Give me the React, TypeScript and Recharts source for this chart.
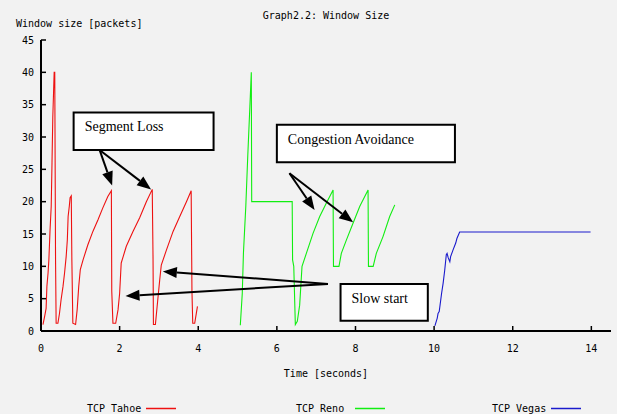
import React from 'react';
import { LineChart, Line, XAxis, YAxis, ReferenceArea, ReferenceLine } from 'recharts';

// ---- data (time in seconds, window size in packets) ----
const tahoeTime = [
  0.05, 0.10, 0.13, 0.15, 0.18, 0.20, 0.23, 0.26, 0.28, 0.30, 0.32, 0.335, 0.35, 0.37, 0.385,
  0.43, 0.47, 0.51, 0.56, 0.60, 0.64, 0.67, 0.69, 0.72, 0.74, 0.77, 0.785, 0.81,
  0.88, 0.92, 0.96, 1.00, 1.07, 1.19, 1.32, 1.45, 1.57, 1.70, 1.79, 1.80, 1.83,
  1.90, 1.96, 2.00, 2.04, 2.17, 2.34, 2.51, 2.68, 2.83, 2.85, 2.86,
  2.91, 2.97, 3.02, 3.06, 3.19, 3.36, 3.53, 3.70, 3.82, 3.84, 3.86,
  3.91, 3.95, 3.98,
];
const tahoeWindow = [
  1, 2.5, 3.5, 6.9, 9, 11, 15.6, 19.3, 26, 33, 37, 40, 40, 11, 1.2,
  1.2, 2.7, 4.8, 6.9, 9, 11.5, 14.1, 17.7, 19.3, 20.6, 20.9, 11, 1.2,
  1, 3.3, 6.9, 9.5, 11, 13.3, 15.4, 17.2, 19, 20.8, 21.7, 6.2, 1.2,
  1.2, 3.3, 5.8, 10.5, 13.1, 15.4, 17.5, 20, 21.9, 11.3, 1,
  1, 4.8, 7.9, 10.2, 12.5, 15.4, 17.7, 20, 21.7, 6.2, 1.2,
  1.2, 2.7, 3.8,
];

const renoTime = [
  5.07, 5.12, 5.15, 5.21, 5.26, 5.31, 5.35, 5.36,
  6.39, 6.40, 6.43, 6.47, 6.52, 6.58, 6.64,
  6.75, 6.92, 7.09, 7.26, 7.43,
  7.44, 7.51, 7.58, 7.64, 7.77, 7.94, 8.11, 8.32,
  8.33, 8.36, 8.45, 8.53, 8.70, 8.87, 9.00,
];
const renoWindow = [
  0.9, 5.8, 12.1, 19.3, 27.1, 34.2, 40, 20,
  20, 11, 10, 1, 1.5, 4, 10,
  12, 15.1, 17.7, 19.8, 21.8,
  10, 10, 10, 12, 14.1, 16.7, 19.3, 21.8,
  10, 10, 10, 12, 14.6, 17.7, 19.5,
];

const vegasTime = [10.02, 10.08, 10.10, 10.13, 10.19, 10.23, 10.27, 10.31, 10.33, 10.36, 10.40, 10.42, 10.48, 10.55, 10.58, 10.65, 13.98];
const vegasWindow = [0.8, 2, 2.7, 3, 5.8, 7.4, 9.4, 11.8, 12, 11.3, 10.7, 11.5, 12.5, 13.6, 14.3, 15.3, 15.3];

const xTicks = [0, 2, 4, 6, 8, 10, 12, 14];
const yTicks = [0, 5, 10, 15, 20, 25, 30, 35, 40, 45];

const seriesNames = ['TCP Tahoe', 'TCP Reno', 'TCP Vegas'];
const seriesColors = ['#ee1111', '#11ee11', '#1a1acc'];

const chartTitleText = 'Graph2.2: Window Size';
const xTitleText = 'Time [seconds]';
const yTitleText = 'Window size [packets]';

// annotation boxes
const boxLabels = ['Segment Loss', 'Congestion Avoidance', 'Slow start'];
const boxT1 = [0.83, 6.0, 7.62];
const boxT2 = [4.39, 10.53, 9.84];
const boxW1 = [28.0, 26.1, 1.6];
const boxW2 = [33.8, 31.9, 7.28];

// arrows: from (t, w) to (t, w)
const arrowFromT = [1.49, 1.49, 6.32, 6.32, 7.30, 7.30];
const arrowFromW = [28.0, 28.0, 24.4, 24.4, 7.28, 7.28];
const arrowToT = [1.81, 2.80, 6.96, 7.94, 3.10, 2.15];
const arrowToW = [22.5, 21.9, 18.7, 16.8, 9.2, 5.4];

const zip = (ts: number[], ws: number[]) => ts.map((t, i) => ({ t, w: ws[i] }));
const tahoeData = zip(tahoeTime, tahoeWindow);
const renoData = zip(renoTime, renoWindow);
const vegasData = zip(vegasTime, vegasWindow);
const seriesData = [tahoeData, renoData, vegasData];

const MONO = '"DejaVu Sans Mono", "Liberation Mono", monospace';
const SERIF = '"Liberation Serif", "Times New Roman", serif';
const BG = '#f2f2f2';

const BottomTick = (props: any) => {
  const { x, y, payload } = props;
  return (
    <g>
      <line x1={x} y1={y} x2={x} y2={y - 5} stroke="#000" strokeWidth={1.5} />
      <text x={x} y={y + 21} textAnchor="middle" fontFamily={MONO} fontSize={10} fill="#000">
        {payload.value}
      </text>
    </g>
  );
};
const TopTick = (props: any) => {
  const { x, y } = props;
  return <line x1={x} y1={y} x2={x} y2={y + 5} stroke="#000" strokeWidth={1.5} />;
};
const LeftTick = (props: any) => {
  const { x, y, payload } = props;
  return (
    <g>
      <line x1={x} y1={y} x2={x + 5} y2={y} stroke="#000" strokeWidth={1.5} />
      <text x={x - 7} y={y + 3.7} textAnchor="end" fontFamily={MONO} fontSize={10} fill="#000">
        {payload.value}
      </text>
    </g>
  );
};
const RightTick = (props: any) => {
  const { x, y } = props;
  return <line x1={x} y1={y} x2={x - 5} y2={y} stroke="#000" strokeWidth={1.5} />;
};

const Arrow = (props: any) => {
  const { x1, y1, x2, y2 } = props;
  const dx = x2 - x1;
  const dy = y2 - y1;
  const len = Math.hypot(dx, dy) || 1;
  const ux = dx / len;
  const uy = dy / len;
  const hl = 14;
  const hw = 5.5;
  const bx = x2 - ux * hl;
  const by = y2 - uy * hl;
  const px = -uy * hw;
  const py = ux * hw;
  return (
    <g>
      <line x1={x1} y1={y1} x2={bx} y2={by} stroke="#000" strokeWidth={2} />
      <polygon points={`${x2},${y2} ${bx + px},${by + py} ${bx - px},${by - py}`} fill="#000" />
    </g>
  );
};

const boxText = (text: string) => (p: any) => {
  const vb = p.viewBox || {};
  return (
    <text x={vb.x + 11} y={vb.y + 19} fontFamily={SERIF} fontSize={14} fill="#000">
      {text}
    </text>
  );
};

const yTitle = (p: any) => {
  const vb = p.viewBox || {};
  return (
    <text x={16} y={vb.y - 13} fontFamily={MONO} fontSize={10} fill="#000">
      {yTitleText}
    </text>
  );
};
// bottom axis label: draws the x-axis title, and the chart title centred over the plot
const xTitle = (p: any) => {
  const vb = p.viewBox || {};
  const cx = vb.x + vb.width / 2;
  return (
    <g>
      <text x={cx} y={vb.y + 46} textAnchor="middle" fontFamily={MONO} fontSize={10} fill="#000">
        {xTitleText}
      </text>
      <text x={cx} y={19} textAnchor="middle" fontFamily={MONO} fontSize={10} fill="#000">
        {chartTitleText}
      </text>
    </g>
  );
};

const legendTextX = [87, 296, 492];

export default function App() {
  return (
    <div style={{ position: 'absolute', left: 0, top: 0, width: 617, height: 414, background: BG, overflow: 'hidden' }}>
      <LineChart width={617} height={414} margin={{ top: 40, right: 6, left: 0, bottom: 0 }}>
        <XAxis
          xAxisId="b"
          type="number"
          dataKey="t"
          domain={[0, 14.5]}
          ticks={xTicks}
          allowDataOverflow
          height={83}
          tickSize={0}
          tickMargin={0}
          tickLine={false}
          tick={BottomTick}
          axisLine={{ stroke: '#000', strokeWidth: 2 }}
          label={{ content: xTitle }}
        />
        <XAxis
          xAxisId="top"
          orientation="top"
          type="number"
          dataKey="t"
          domain={[0, 14.5]}
          ticks={xTicks}
          allowDataOverflow
          height={0}
          tickSize={0}
          tickMargin={0}
          tickLine={false}
          tick={TopTick}
          axisLine={{ stroke: '#000', strokeWidth: 2 }}
        />
        <YAxis
          yAxisId="l"
          type="number"
          domain={[0, 45]}
          ticks={yTicks}
          allowDataOverflow
          width={41}
          tickSize={0}
          tickMargin={0}
          tickLine={false}
          tick={LeftTick}
          axisLine={{ stroke: '#000', strokeWidth: 2 }}
          label={{ content: yTitle }}
        />
        <YAxis
          yAxisId="r"
          orientation="right"
          type="number"
          domain={[0, 45]}
          ticks={yTicks}
          allowDataOverflow
          width={0}
          tickSize={0}
          tickMargin={0}
          tickLine={false}
          tick={RightTick}
          axisLine={{ stroke: '#000', strokeWidth: 2 }}
        />
        {seriesData.map((d, i) => (
          <Line
            key={seriesNames[i]}
            xAxisId="b"
            yAxisId="l"
            data={d}
            dataKey="w"
            name={seriesNames[i]}
            type="linear"
            stroke={seriesColors[i]}
            strokeWidth={1.1}
            dot={false}
            activeDot={false}
            isAnimationActive={false}
          />
        ))}
        {boxLabels.map((lab, i) => (
          <ReferenceArea
            key={lab}
            xAxisId="b"
            yAxisId="l"
            x1={boxT1[i]}
            x2={boxT2[i]}
            y1={boxW1[i]}
            y2={boxW2[i]}
            fill="#ffffff"
            fillOpacity={1}
            stroke="#000"
            strokeWidth={2}
            label={{ content: boxText(lab) }}
          />
        ))}
        {arrowFromT.map((t, i) => (
          <ReferenceLine
            key={'arrow' + i}
            xAxisId="b"
            yAxisId="l"
            segment={[
              { x: t, y: arrowFromW[i] },
              { x: arrowToT[i], y: arrowToW[i] },
            ]}
            shape={Arrow}
          />
        ))}
      </LineChart>
      <svg width={617} height={414} style={{ position: 'absolute', left: 0, top: 0, pointerEvents: 'none' }}>
        {seriesNames.map((n, i) => (
          <g key={n}>
            <text x={legendTextX[i]} y={412} fontFamily={MONO} fontSize={10} fill="#000">
              {n}
            </text>
            <line x1={legendTextX[i] + 59} x2={legendTextX[i] + 89} y1={408.5} y2={408.5} stroke={seriesColors[i]} strokeWidth={1.5} />
          </g>
        ))}
      </svg>
    </div>
  );
}
